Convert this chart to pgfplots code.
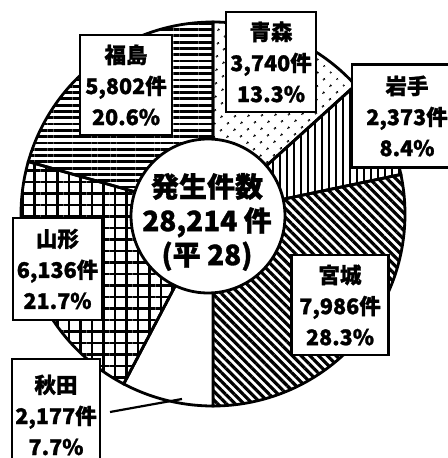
\documentclass[border=0pt]{standalone}
\usepackage{pgfplots}
\pgfplotsset{compat=1.18}
\usetikzlibrary{patterns.meta}
\usepackage{fontspec}
\setmainfont{Noto Sans CJK JP}[BoldFeatures={FakeBold=1.2}]
% shares in percent, clockwise from the top
\def\pA{13.3}\def\pB{8.4}\def\pC{28.3}\def\pD{7.7}\def\pE{21.7}\def\pF{20.6}
\pgfmathsetmacro\aA{0}
\pgfmathsetmacro\aB{3.6*\pA}
\pgfmathsetmacro\aC{3.6*(\pA+\pB)}
\pgfmathsetmacro\aD{3.6*(\pA+\pB+\pC)}
\pgfmathsetmacro\aE{3.6*(\pA+\pB+\pC+\pD)}
\pgfmathsetmacro\aF{3.6*(\pA+\pB+\pC+\pD+\pE)}
\pgfmathsetmacro\aG{3.6*(\pA+\pB+\pC+\pD+\pE+\pF)}
\def\cx{213}\def\cy{214}\def\R{192}
\newcommand\sector[3]{%
  \addplot[draw=black, line width=2.8bp, #3, domain=#1:#2, samples=90]
    ({\cx+\R*sin(x)}, {\cy-\R*cos(x)}) -- (\cx,\cy) -- cycle;
}
\tikzset{lbl/.style={draw=black, line width=2.2bp, fill=white, align=center,
  inner sep=0pt, font=\fontsize{21.5bp}{31bp}\selectfont\bfseries}}
\begin{document}
\begin{tikzpicture}
\begin{axis}[
  scale only axis, width=448bp, height=458bp,
  xmin=0, xmax=448, ymin=0, ymax=458, y dir=reverse,
  hide axis, clip=false,
]
\sector{\aA}{\aB}{pattern={Dots[distance=10bp, radius=1.5bp, angle=45]}, pattern color=black}
\sector{\aB}{\aC}{pattern={Lines[angle=90, distance=7bp, line width=2.8bp]}, pattern color=black}
\sector{\aC}{\aD}{pattern={Lines[angle=-45, distance=6.2bp, line width=3.2bp]}, pattern color=black}
\sector{\aD}{\aE}{fill=white}
\sector{\aE}{\aF}{pattern={Hatch[angle=0, distance=11.5bp, line width=2.4bp]}, pattern color=black}
\sector{\aF}{\aG}{pattern={Lines[angle=0, distance=6.3bp, line width=2.8bp]}, pattern color=black}
% centre disc
\addplot[draw=black, fill=white, line width=2.8bp, domain=0:360, samples=120]
  ({208+77*sin(x)}, {216-77*cos(x)}) -- cycle;
% leader line for Akita
\addplot[black, line width=2.2bp] coordinates {(110,412) (182,399)};
% labels
\node[lbl, minimum width=92bp, minimum height=100bp] at (126,85) {福島\\5,802件\\20.6\%};
\node[lbl, minimum width=90bp, minimum height=100bp] at (271,62) {青森\\3,740件\\13.3\%};
\node[lbl, minimum width=110bp, minimum height=103bp] at (407,116) {岩手\\2,373件\\8.4\%};
\node[lbl, minimum width=97bp, minimum height=100bp] at (340,305) {宮城\\7,986件\\28.3\%};
\node[lbl, minimum width=89bp, minimum height=102bp] at (57.5,269) {山形\\6,136件\\21.7\%};
\node[lbl, minimum width=88bp, minimum height=112bp] at (56,415) {秋田\\2,177件\\7.7\%};
\node[align=center, font=\fontsize{28bp}{34bp}\selectfont\bfseries] at (207,222)
  {発生件数\\28,214 件\\(平 28)};
\end{axis}
\pgfresetboundingbox
\path[use as bounding box] (current axis.south west) rectangle (current axis.north east);
\end{tikzpicture}
\end{document}
